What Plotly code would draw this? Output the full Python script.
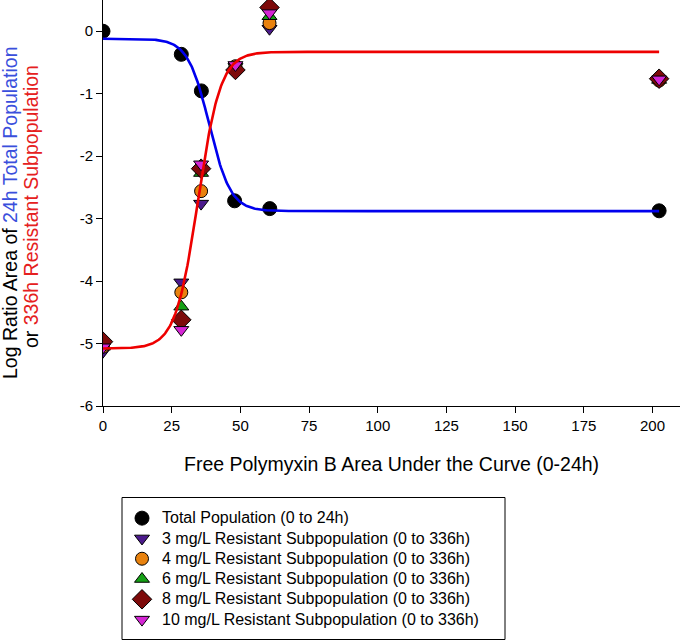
import numpy as np
import plotly.graph_objects as go

# ---- data ----
total_x = [0, 28.5, 35.8, 47.9, 60.7, 202.4]
total_y = [0.0, -0.37, -0.955, -2.715, -2.84, -2.875]

res_x = [0, 28.5, 35.7, 48.2, 60.6, 202.4]
res_3 = [-5.13, -4.02, -2.76, -0.57, 0.04, -0.78]
res_4 = [-5.05, -4.18, -2.56, -0.56, 0.13, -0.79]
res_6 = [-5.05, -4.41, -2.27, -0.58, 0.24, -0.78]
res_8 = [-4.97, -4.62, -2.20, -0.62, 0.38, -0.76]
res_10 = [-5.06, -4.78, -2.13, -0.54, 0.29, -0.77]

# fitted sigmoid parameters (bottom, top, x0, slope)
blue_fit = dict(y_low=-2.88, y_high=-0.12, x0=38.7, s=3.9)   # decreasing
red_fit = dict(y_low=-5.08, y_high=-0.33, x0=34.6, s=4.1)    # increasing
fit_xmax = 202.4

x_ticks = [0, 25, 50, 75, 100, 125, 150, 175, 200]
y_ticks = [-6, -5, -4, -3, -2, -1, 0]
y_ticktext = [str(v) for v in y_ticks]

FONT = "Liberation Sans, Arial, sans-serif"
L, T, PW, PH = 103, 0, 577, 406   # plot area in pixels
TITLE_SIZE = 19.5
LEG_SIZE = 16


def px_to_paper(px, py):
    return (px - L) / PW, (T + PH - py) / PH


def leg(name):
    return f"<span style='font-size:{LEG_SIZE}px'>{name}</span>"


fig = go.Figure()

series = [
    ("3 mg/L Resistant Subpopulation (0 to 336h)", res_3, "triangle-down", "#4b1a8c", 13),
    ("4 mg/L Resistant Subpopulation (0 to 336h)", res_4, "circle", "#e8820e", 13),
    ("6 mg/L Resistant Subpopulation (0 to 336h)", res_6, "triangle-up", "#16a016", 13),
    ("8 mg/L Resistant Subpopulation (0 to 336h)", res_8, "diamond", "#7d0a0a", 15),
    ("10 mg/L Resistant Subpopulation (0 to 336h)", res_10, "triangle-down", "#d425d4", 13),
]

fig.add_trace(go.Scatter(
    x=total_x, y=total_y, mode="markers", name=leg("Total Population (0 to 24h)"),
    marker=dict(symbol="circle", size=14, color="black", line=dict(color="black", width=1)),
))
for name, ys, sym, col, sz in series:
    fig.add_trace(go.Scatter(
        x=res_x, y=ys, mode="markers", name=leg(name),
        marker=dict(symbol=sym, size=sz, color=col, line=dict(color="black", width=1)),
    ))

xf = np.linspace(0, fit_xmax, 600)
blue_y = blue_fit["y_low"] + (blue_fit["y_high"] - blue_fit["y_low"]) / (1 + np.exp((xf - blue_fit["x0"]) / blue_fit["s"]))
red_y = red_fit["y_low"] + (red_fit["y_high"] - red_fit["y_low"]) / (1 + np.exp(-(xf - red_fit["x0"]) / red_fit["s"]))

fig.add_trace(go.Scatter(x=xf, y=blue_y, mode="lines", line=dict(color="#0000ee", width=2.6),
                         showlegend=False, hoverinfo="skip"))
fig.add_trace(go.Scatter(x=xf, y=red_y, mode="lines", line=dict(color="#ee0000", width=2.6),
                         showlegend=False, hoverinfo="skip"))

xt_x, xt_y = px_to_paper(391, 464)
y1_x, y1_y = px_to_paper(10, 213)
y2_x, y2_y = px_to_paper(31, 207)
lg_x, lg_y = px_to_paper(122, 503)
box_x0, box_y1 = px_to_paper(122, 497.5)
box_x1, box_y0 = px_to_paper(505, 639.5)

fig.update_layout(
    width=680, height=642,
    margin=dict(l=L, r=680 - L - PW, t=T, b=642 - T - PH, autoexpand=False),
    paper_bgcolor="white", plot_bgcolor="white",
    font=dict(family=FONT, color="black", size=14),
    legend=dict(
        x=lg_x, y=lg_y, xanchor="left", yanchor="top",
        borderwidth=0, bgcolor="rgba(0,0,0,0)",
        font=dict(family=FONT, size=13.3, color="black"),
        tracegroupgap=0, itemwidth=30,
    ),
    shapes=[dict(type="rect", xref="paper", yref="paper",
                 x0=box_x0, x1=box_x1, y0=box_y0, y1=box_y1,
                 line=dict(color="black", width=1), fillcolor="rgba(0,0,0,0)", layer="below")],
    xaxis=dict(
        range=[0, 210], tickvals=x_ticks, ticks="outside", ticklen=6, tickwidth=1,
        tickcolor="black", showline=True, linecolor="black", linewidth=1,
        showgrid=False, zeroline=False, tickfont=dict(size=15, family=FONT),
    ),
    yaxis=dict(
        range=[-6, 0.5], tickvals=y_ticks, ticktext=y_ticktext, ticks="outside", ticklen=6,
        tickwidth=1, tickcolor="black", showline=True, linecolor="black", linewidth=1,
        showgrid=False, zeroline=False, tickfont=dict(size=15, family=FONT),
    ),
    annotations=[
        dict(
            xref="paper", yref="paper", x=xt_x, y=xt_y, xanchor="center", yanchor="middle",
            text="Free Polymyxin B Area Under the Curve (0-24h)", showarrow=False,
            font=dict(family=FONT, size=TITLE_SIZE, color="black"),
        ),
        dict(
            xref="paper", yref="paper", x=y1_x, y=y1_y,
            xanchor="center", yanchor="middle", textangle=-90, showarrow=False,
            text="Log Ratio Area of <span style='color:#3a4fdc'>24h Total Population</span>",
            font=dict(family=FONT, size=TITLE_SIZE, color="black"),
        ),
        dict(
            xref="paper", yref="paper", x=y2_x, y=y2_y,
            xanchor="center", yanchor="middle", textangle=-90, showarrow=False,
            text="or <span style='color:#e52020'>336h Resistant Subpopulation</span>",
            font=dict(family=FONT, size=TITLE_SIZE, color="black"),
        ),
    ],
)

fig.write_html("out.html", config={"displayModeBar": False},
               post_script="document.body.style.margin='0';")
